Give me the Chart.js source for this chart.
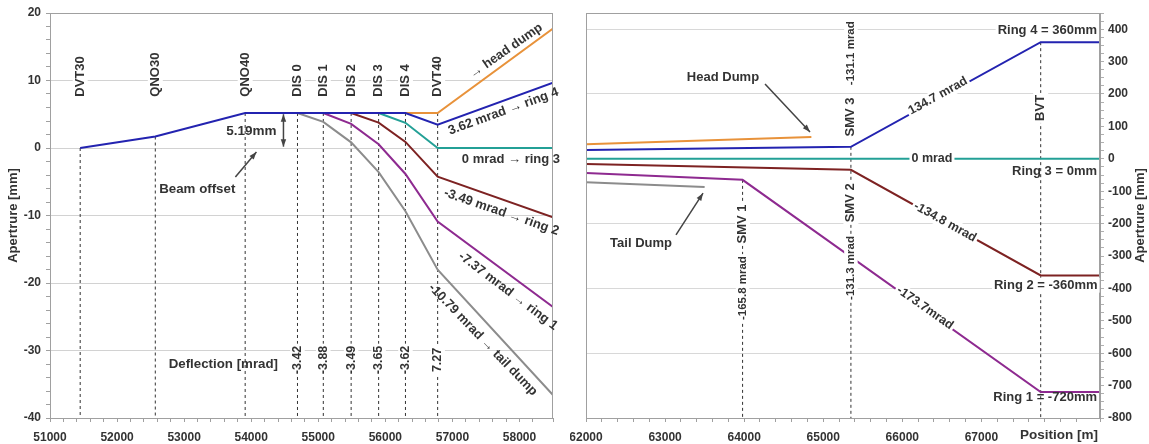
<!DOCTYPE html>
<html>
<head>
<meta charset="utf-8">
<script src="https://cdn.jsdelivr.net/npm/chart.js@4.4.1/dist/chart.umd.min.js"></script>
<style>
  html, body { margin: 0; padding: 0; background: #fff; }
  #left { position: absolute; left: 0; top: 0; }
  #right { position: absolute; left: 570px; top: 0; }
</style>
</head>
<body>
<canvas id="left" width="565" height="444"></canvas>
<canvas id="right" width="579" height="444"></canvas>
<script>
// ---- extraction line, 51000 - 58500 m ----
const elemNames = ['DVT30', 'QNO30', 'QNO40', 'DIS 0', 'DIS 1', 'DIS 2', 'DIS 3', 'DIS 4', 'DVT40'];
const elemPos = [51450, 52570, 53910, 54690, 55075, 55490, 55900, 56300, 56780];
const elemTop = [0, 1.7, 5.19, 5.19, 5.19, 5.19, 5.19, 5.19, 5.19];
const kickPos = [54690, 55075, 55490, 55900, 56300, 56780];
const kickValues = ['-3.42', '-3.88', '-3.49', '-3.65', '-3.62', '7.27'];

const headDumpX = [56300, 56780, 58500];
const headDumpY = [5.19, 5.19, 17.7];
const ring4X = [51450, 52570, 53910, 56300, 56780, 58500];
const ring4Y = [0, 1.7, 5.19, 5.19, 3.45, 9.68];
const ring3X = [55900, 56300, 56780, 58500];
const ring3Y = [5.19, 3.73, 0, 0];
const ring2X = [55490, 55900, 56300, 56780, 58500];
const ring2Y = [5.19, 3.76, 0.9, -4.26, -10.26];
const ring1X = [55075, 55490, 55900, 56300, 56780, 58500];
const ring1Y = [5.19, 3.58, 0.56, -3.85, -10.88, -23.56];
const tailDumpX = [54690, 55075, 55490, 55900, 56300, 56780, 58500];
const tailDumpY = [5.19, 3.87, 0.84, -3.58, -9.36, -18.03, -36.59];

// ---- transfer to the rings, 62000 - 68500 m ----
const rHeadX = [62000, 64850];
const rHeadY = [45, 67];
const rRing4X = [62000, 65350, 67750, 68500];
const rRing4Y = [27, 37, 360, 360];
const rRing3X = [62000, 68500];
const rRing3Y = [0, 0];
const rRing2X = [62000, 65350, 67750, 68500];
const rRing2Y = [-16, -34, -360, -360];
const rRing1X = [62000, 63980, 67750, 68500];
const rRing1Y = [-44, -65, -720, -720];
const rTailX = [62000, 63500];
const rTailY = [-72, -87];
const magNames = ['SMV 1', 'SMV 2', 'BVT'];
const magPos = [63980, 65350, 67750];
const magTop = [-65, 37, 360];

const FONT = '"Liberation Sans", Arial, sans-serif';
const TXT = '#333';
const C = {
  orange: '#e8923a', blue: '#2323b0', teal: '#23a096',
  brown: '#7d2222', purple: '#8e2a90', gray: '#8c8c8c'
};

function pts(xs, ys) {
  return xs.map((x, i) => ({ x: x, y: ys[i] }));
}
function trace(label, xs, ys, color, order) {
  return { label, data: pts(xs, ys), borderColor: color, borderWidth: 2,
           pointRadius: 0, tension: 0, fill: false, order: order };
}
function dropLines(pos, tops, bottom) {
  return pos.map((p, i) => ({
    label: 'marker' + i, data: [{ x: p, y: tops[i] }, { x: p, y: bottom }],
    borderColor: '#333', borderWidth: 1, borderDash: [3, 3],
    pointRadius: 0, fill: false, order: 10
  }));
}

// text, arrows and frame on top of the data
const notesPlugin = {
  id: 'notes',
  afterDatasetsDraw(chart, args, opts) {
    const ctx = chart.ctx, xs = chart.scales.x, ys = chart.scales.y;
    const a = chart.chartArea;
    ctx.save();
    ctx.strokeStyle = '#a0a0a0';
    ctx.lineWidth = 1;
    ctx.strokeRect(a.left + 0.5, a.top + 0.5, a.right - a.left - 1, a.bottom - a.top);
    (opts.items || []).forEach(n => {
      if (n.arrow) {
        drawArrow(ctx, xs.getPixelForValue(n.x1), ys.getPixelForValue(n.y1),
                  xs.getPixelForValue(n.x2), ys.getPixelForValue(n.y2), n.both);
        return;
      }
      drawText(ctx, xs.getPixelForValue(n.x), ys.getPixelForValue(n.y), n);
    });
    // axis titles and fixed labels
    (opts.fixed || []).forEach(n => {
      const px = n.side === 'left' ? a.left + n.dx : a.right + n.dx;
      const py = n.dy === undefined ? (a.top + a.bottom) / 2 : a.bottom + n.dy;
      drawText(ctx, px, py, n);
    });
    ctx.restore();
  }
};

function drawText(ctx, px, py, n) {
  const size = n.size || 12;
  ctx.save();
  ctx.translate(px, py);
  ctx.rotate((n.rot || 0) * Math.PI / 180);
  ctx.font = 'bold ' + size + 'px ' + FONT;
  ctx.textAlign = n.align || 'center';
  ctx.textBaseline = 'middle';
  if (n.bg) {
    const w = ctx.measureText(n.text).width;
    const x0 = ctx.textAlign === 'center' ? -w / 2 : ctx.textAlign === 'right' ? -w : 0;
    ctx.fillStyle = '#fff';
    ctx.fillRect(x0 - 2, -size / 2 - 1, w + 4, size + 2);
  }
  ctx.fillStyle = TXT;
  ctx.fillText(n.text, 0, 0);
  ctx.restore();
}

function drawArrow(ctx, x1, y1, x2, y2, both) {
  ctx.save();
  ctx.strokeStyle = '#444';
  ctx.fillStyle = '#444';
  ctx.lineWidth = 1.5;
  ctx.beginPath();
  ctx.moveTo(x1, y1);
  ctx.lineTo(x2, y2);
  ctx.stroke();
  const head = (xa, ya, xb, yb) => {
    const ang = Math.atan2(yb - ya, xb - xa);
    ctx.beginPath();
    ctx.moveTo(xb, yb);
    ctx.lineTo(xb - 8 * Math.cos(ang - 0.35), yb - 8 * Math.sin(ang - 0.35));
    ctx.lineTo(xb - 8 * Math.cos(ang + 0.35), yb - 8 * Math.sin(ang + 0.35));
    ctx.closePath();
    ctx.fill();
  };
  head(x1, y1, x2, y2);
  if (both) head(x2, y2, x1, y1);
  ctx.restore();
}

const tickFont = { family: FONT, size: 12, weight: 'bold' };

function xAxis(min, max, hideFrom) {
  return {
    type: 'linear', min: min, max: max,
    // fixed height, and no extra side room for the end labels
    afterFit: s => { s.height = 26; s.paddingLeft = 0; s.paddingRight = 0; },
    border: { color: '#a0a0a0' },
    grid: { drawOnChartArea: false, tickLength: 4, tickColor: '#a0a0a0' },
    ticks: {
      stepSize: 200, autoSkip: false, maxRotation: 0, minRotation: 0,
      padding: 8, color: TXT, font: tickFont,
      callback: v => (v % 1000 === 0 && v < hideFrom) ? String(v) : ''
    }
  };
}

// ---------- left chart ----------
const leftNotes = [];
elemNames.forEach((name, i) => {
  leftNotes.push({ x: elemPos[i], y: 7.6, text: name, rot: -90, align: 'left', size: 13, bg: true });
});
kickValues.forEach((k, i) => {
  leftNotes.push({ x: kickPos[i], y: -31.4, text: k, rot: -90, size: 12.5, bg: true });
});
leftNotes.push(
  { x: 54376, y: 2.5, text: '5.19mm', align: 'right', size: 13.5 },
  { arrow: true, x1: 54481, y1: 5.0, x2: 54481, y2: 0.2, both: true },
  { x: 53196, y: -6.1, text: 'Beam offset', size: 13.3 },
  { arrow: true, x1: 53764, y1: -4.3, x2: 54078, y2: -0.6 },
  { x: 53585, y: -32.0, text: 'Deflection [mrad]', size: 13.3 },
  { x: 57798, y: 14.4, text: '\u2192 head dump', rot: -35, size: 13 },
  { x: 57760, y: 5.4, text: '3.62 mrad \u2192 ring 4', rot: -20, size: 13 },
  { x: 57873, y: -1.65, text: '0 mrad \u2192 ring 3', size: 13 },
  { x: 57730, y: -9.5, text: '-3.49 mrad \u2192 ring 2', rot: 19, size: 13 },
  { x: 57830, y: -21.2, text: '-7.37 mrad \u2192 ring 1', rot: 37, size: 13 },
  { x: 57454, y: -28.4, text: '-10.79 mrad \u2192 tail dump', rot: 46, size: 13 }
);

new Chart(document.getElementById('left'), {
  type: 'line',
  data: {
    datasets: [
      trace('ring 4', ring4X, ring4Y, C.blue, 0),
      trace('head dump', headDumpX, headDumpY, C.orange, 1),
      trace('ring 3', ring3X, ring3Y, C.teal, 2),
      trace('ring 2', ring2X, ring2Y, C.brown, 3),
      trace('ring 1', ring1X, ring1Y, C.purple, 4),
      trace('tail dump', tailDumpX, tailDumpY, C.gray, 5),
      ...dropLines(elemPos, elemTop, -40)
    ]
  },
  options: {
    responsive: false,
    animation: false,
    layout: { padding: { top: 13, right: 12, left: 0, bottom: 0 } },
    plugins: {
      legend: { display: false },
      tooltip: { enabled: false },
      notes: {
        items: leftNotes,
        fixed: [{ side: 'left', dx: -37, text: 'Apertrure [mm]', rot: -90, size: 13 }]
      }
    },
    scales: {
      x: xAxis(51000, 58500, 99999),
      y: {
        type: 'linear', min: -40, max: 20,
        afterFit: s => { s.width = 50; },
        border: { color: '#a0a0a0' },
        grid: {
          color: c => (c.tick && c.tick.value % 10 === 0) ? '#d2d2d2' : 'transparent',
          tickLength: 4, tickColor: '#a0a0a0'
        },
        ticks: {
          stepSize: 2, autoSkip: false, padding: 5, color: TXT, font: tickFont,
          callback: v => v % 10 === 0 ? String(v) : ''
        }
      }
    }
  },
  plugins: [notesPlugin]
});

// ---------- right chart ----------
const rightNotes = [
  { x: 63732, y: 252, text: 'Head Dump', size: 13 },
  { arrow: true, x1: 64264, y1: 231, x2: 64833, y2: 83 },
  { x: 62696, y: -260, text: 'Tail Dump', size: 13 },
  { arrow: true, x1: 63138, y1: -235, x2: 63480, y2: -106 },
  { x: 65350, y: 326, text: '-131.1 mrad', rot: -90, size: 11.5, bg: true },
  { x: 65350, y: 129, text: 'SMV 3', rot: -90, size: 13, bg: true },
  { x: 65350, y: -136, text: 'SMV 2', rot: -90, size: 13, bg: true },
  { x: 65350, y: -337, text: '-131.3 mrad', rot: -90, size: 11.5, bg: true },
  { x: 63980, y: -201, text: 'SMV 1', rot: -90, size: 13, bg: true },
  { x: 63980, y: -399, text: '-165.8 mrad', rot: -90, size: 11.5, bg: true },
  { x: 67750, y: 157, text: 'BVT', rot: -90, size: 13, bg: true },
  { x: 66451, y: 194, text: '134.7 mrad', rot: -29, size: 12.5, bg: true },
  { x: 66375, y: 0, text: '0 mrad', size: 12.5, bg: true },
  { x: 66540, y: -195, text: '-134.8 mrad', rot: 29, size: 12.5, bg: true },
  { x: 66287, y: -460, text: '-173.7mrad', rot: 35, size: 12.5, bg: true },
  { x: 68462, y: 397, text: 'Ring 4 = 360mm', align: 'right', size: 13, bg: true },
  { x: 68462, y: -38, text: 'Ring 3 = 0mm', align: 'right', size: 13 },
  { x: 68470, y: -390, text: 'Ring 2 = -360mm', align: 'right', size: 13, bg: true },
  { x: 68462, y: -738, text: 'Ring 1 = -720mm', align: 'right', size: 13 }
];

new Chart(document.getElementById('right'), {
  type: 'line',
  data: {
    datasets: [
      trace('ring 4', rRing4X, rRing4Y, C.blue, 0),
      trace('head dump', rHeadX, rHeadY, C.orange, 1),
      trace('ring 3', rRing3X, rRing3Y, C.teal, 2),
      trace('ring 2', rRing2X, rRing2Y, C.brown, 3),
      trace('ring 1', rRing1X, rRing1Y, C.purple, 4),
      trace('tail dump', rTailX, rTailY, C.gray, 5),
      ...dropLines(magPos, magTop, -800)
    ]
  },
  options: {
    responsive: false,
    animation: false,
    layout: { padding: { top: 13, right: 0, left: 16, bottom: 0 } },
    plugins: {
      legend: { display: false },
      tooltip: { enabled: false },
      notes: {
        items: rightNotes,
        fixed: [
          { side: 'right', dx: 40, text: 'Apertrure [mm]', rot: -90, size: 13 },
          { side: 'right', dx: -2, dy: 17, text: 'Position [m]', align: 'right', size: 13.5 }
        ]
      }
    },
    scales: {
      x: xAxis(62000, 68500, 68000),
      y: {
        type: 'linear', position: 'right', min: -800, max: 450,
        afterFit: s => { s.width = 49; },
        border: { color: '#a0a0a0' },
        grid: {
          color: c => (c.tick && c.tick.value % 200 === 0) ? '#d8d8d8' : 'transparent',
          tickLength: 4, tickColor: '#b0b0b0'
        },
        ticks: {
          stepSize: 25, autoSkip: false, padding: 4, color: TXT, font: tickFont,
          callback: v => (v % 100 === 0 && v <= 400) ? String(v) : ''
        }
      }
    }
  },
  plugins: [notesPlugin]
});
</script>
</body>
</html>
